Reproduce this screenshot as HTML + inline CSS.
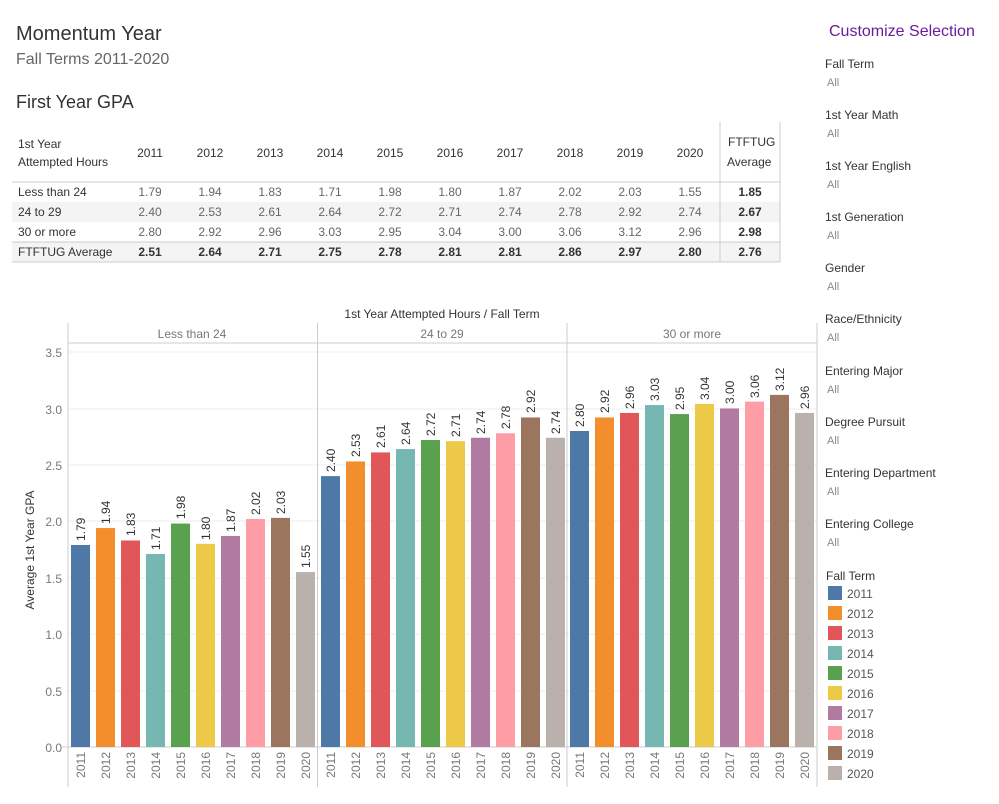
<!DOCTYPE html>
<html><head><meta charset="utf-8"><style>
body{margin:0;width:999px;height:799px;background:#fff;font-family:"Liberation Sans",sans-serif;overflow:hidden}
svg text{font-family:"Liberation Sans",sans-serif}
</style></head><body>
<svg width="999" height="799" viewBox="0 0 999 799" xmlns="http://www.w3.org/2000/svg">
<text x="16" y="40" font-size="20" fill="#333">Momentum Year</text>
<text x="16" y="64" font-size="16" fill="#666">Fall Terms 2011-2020</text>
<text x="16" y="108" font-size="18" fill="#333">First Year GPA</text>
<!-- table -->
<rect x="12" y="202" width="768" height="20" fill="#f4f4f4"/>
<rect x="12" y="242" width="768" height="20" fill="#f4f4f4"/>
<line x1="12" y1="182" x2="780" y2="182" stroke="#ccc"/>
<line x1="12" y1="242" x2="780" y2="242" stroke="#ccc"/>
<line x1="12" y1="262" x2="780" y2="262" stroke="#ccc"/>
<line x1="720" y1="122" x2="720" y2="262" stroke="#ccc"/>
<line x1="780" y1="122" x2="780" y2="262" stroke="#ccc"/>
<g font-size="12" fill="#333">
<text x="18" y="148">1st Year</text><text x="18" y="166">Attempted Hours</text>
<text x="728" y="146">FTFTUG</text><text x="727" y="166">Average</text>
<text x="18" y="196">Less than 24</text><text x="18" y="216">24 to 29</text>
<text x="18" y="236">30 or more</text><text x="18" y="256">FTFTUG Average</text>
</g>
<g font-size="12" fill="#333" text-anchor="middle">
<text x="150" y="157">2011</text><text x="210" y="157">2012</text><text x="270" y="157">2013</text><text x="330" y="157">2014</text><text x="390" y="157">2015</text><text x="450" y="157">2016</text><text x="510" y="157">2017</text><text x="570" y="157">2018</text><text x="630" y="157">2019</text><text x="690" y="157">2020</text>
</g>
<g font-size="12" fill="#666" text-anchor="middle">
<text x="150" y="196">1.79</text><text x="210" y="196">1.94</text><text x="270" y="196">1.83</text><text x="330" y="196">1.71</text><text x="390" y="196">1.98</text><text x="450" y="196">1.80</text><text x="510" y="196">1.87</text><text x="570" y="196">2.02</text><text x="630" y="196">2.03</text><text x="690" y="196">1.55</text>
<text x="150" y="216">2.40</text><text x="210" y="216">2.53</text><text x="270" y="216">2.61</text><text x="330" y="216">2.64</text><text x="390" y="216">2.72</text><text x="450" y="216">2.71</text><text x="510" y="216">2.74</text><text x="570" y="216">2.78</text><text x="630" y="216">2.92</text><text x="690" y="216">2.74</text>
<text x="150" y="236">2.80</text><text x="210" y="236">2.92</text><text x="270" y="236">2.96</text><text x="330" y="236">3.03</text><text x="390" y="236">2.95</text><text x="450" y="236">3.04</text><text x="510" y="236">3.00</text><text x="570" y="236">3.06</text><text x="630" y="236">3.12</text><text x="690" y="236">2.96</text>
</g>
<g font-size="12" fill="#333" text-anchor="middle" font-weight="bold">
<text x="750" y="196">1.85</text><text x="750" y="216">2.67</text><text x="750" y="236">2.98</text><text x="750" y="256">2.76</text>
<text x="150" y="256">2.51</text><text x="210" y="256">2.64</text><text x="270" y="256">2.71</text><text x="330" y="256">2.75</text><text x="390" y="256">2.78</text><text x="450" y="256">2.81</text><text x="510" y="256">2.81</text><text x="570" y="256">2.86</text><text x="630" y="256">2.97</text><text x="690" y="256">2.80</text>
</g>
<!-- chart -->
<text x="442" y="318" font-size="12" fill="#333" text-anchor="middle">1st Year Attempted Hours  /  Fall Term</text>
<g stroke="#eee"><line x1="68" y1="352" x2="817" y2="352"/><line x1="68" y1="409" x2="817" y2="409"/><line x1="68" y1="465" x2="817" y2="465"/><line x1="68" y1="521" x2="817" y2="521"/><line x1="68" y1="578" x2="817" y2="578"/><line x1="68" y1="634" x2="817" y2="634"/><line x1="68" y1="691" x2="817" y2="691"/></g>
<g stroke="#ccc"><line x1="68" y1="323" x2="68" y2="787"/><line x1="317.5" y1="323" x2="317.5" y2="787"/><line x1="567" y1="323" x2="567" y2="787"/><line x1="817" y1="323" x2="817" y2="787"/><line x1="68" y1="343" x2="817" y2="343"/><line x1="62" y1="747" x2="817" y2="747"/></g>
<g font-size="12" fill="#777" text-anchor="middle"><text x="192" y="338">Less than 24</text><text x="442" y="338">24 to 29</text><text x="692" y="338">30 or more</text></g>
<g font-size="12" fill="#777" text-anchor="end"><text x="62" y="357">3.5</text><text x="62" y="414">3.0</text><text x="62" y="470">2.5</text><text x="62" y="526">2.0</text><text x="62" y="583">1.5</text><text x="62" y="639">1.0</text><text x="62" y="696">0.5</text><text x="62" y="752">0.0</text></g>
<text transform="translate(34,550) rotate(-90)" font-size="12" fill="#333" text-anchor="middle">Average 1st Year GPA</text>
<g transform="translate(0,747) scale(1,-112.86)">
<rect x="71" y="0" width="19" height="1.79" fill="#4e79a7"/><rect x="96" y="0" width="19" height="1.94" fill="#f28e2b"/><rect x="121" y="0" width="19" height="1.83" fill="#e15759"/><rect x="146" y="0" width="19" height="1.71" fill="#76b7b2"/><rect x="171" y="0" width="19" height="1.98" fill="#59a14f"/><rect x="196" y="0" width="19" height="1.80" fill="#edc948"/><rect x="221" y="0" width="19" height="1.87" fill="#b07aa1"/><rect x="246" y="0" width="19" height="2.02" fill="#ff9da7"/><rect x="271" y="0" width="19" height="2.03" fill="#9c755f"/><rect x="296" y="0" width="19" height="1.55" fill="#bab0ac"/>
<rect x="321" y="0" width="19" height="2.40" fill="#4e79a7"/><rect x="346" y="0" width="19" height="2.53" fill="#f28e2b"/><rect x="371" y="0" width="19" height="2.61" fill="#e15759"/><rect x="396" y="0" width="19" height="2.64" fill="#76b7b2"/><rect x="421" y="0" width="19" height="2.72" fill="#59a14f"/><rect x="446" y="0" width="19" height="2.71" fill="#edc948"/><rect x="471" y="0" width="19" height="2.74" fill="#b07aa1"/><rect x="496" y="0" width="19" height="2.78" fill="#ff9da7"/><rect x="521" y="0" width="19" height="2.92" fill="#9c755f"/><rect x="546" y="0" width="19" height="2.74" fill="#bab0ac"/>
<rect x="570" y="0" width="19" height="2.80" fill="#4e79a7"/><rect x="595" y="0" width="19" height="2.92" fill="#f28e2b"/><rect x="620" y="0" width="19" height="2.96" fill="#e15759"/><rect x="645" y="0" width="19" height="3.03" fill="#76b7b2"/><rect x="670" y="0" width="19" height="2.95" fill="#59a14f"/><rect x="695" y="0" width="19" height="3.04" fill="#edc948"/><rect x="720" y="0" width="19" height="3.00" fill="#b07aa1"/><rect x="745" y="0" width="19" height="3.06" fill="#ff9da7"/><rect x="770" y="0" width="19" height="3.12" fill="#9c755f"/><rect x="795" y="0" width="19" height="2.96" fill="#bab0ac"/>
</g>
<g font-size="12" fill="#333">
<text transform="translate(85,541) rotate(-90)">1.79</text><text transform="translate(110,524) rotate(-90)">1.94</text><text transform="translate(135,536) rotate(-90)">1.83</text><text transform="translate(160,550) rotate(-90)">1.71</text><text transform="translate(185,519) rotate(-90)">1.98</text><text transform="translate(210,540) rotate(-90)">1.80</text><text transform="translate(235,532) rotate(-90)">1.87</text><text transform="translate(260,515) rotate(-90)">2.02</text><text transform="translate(285,514) rotate(-90)">2.03</text><text transform="translate(310,568) rotate(-90)">1.55</text>
<text transform="translate(335,472) rotate(-90)">2.40</text><text transform="translate(360,457) rotate(-90)">2.53</text><text transform="translate(385,448) rotate(-90)">2.61</text><text transform="translate(410,445) rotate(-90)">2.64</text><text transform="translate(435,436) rotate(-90)">2.72</text><text transform="translate(460,437) rotate(-90)">2.71</text><text transform="translate(485,434) rotate(-90)">2.74</text><text transform="translate(510,429) rotate(-90)">2.78</text><text transform="translate(535,413) rotate(-90)">2.92</text><text transform="translate(560,434) rotate(-90)">2.74</text>
<text transform="translate(584,427) rotate(-90)">2.80</text><text transform="translate(609,413) rotate(-90)">2.92</text><text transform="translate(634,409) rotate(-90)">2.96</text><text transform="translate(659,401) rotate(-90)">3.03</text><text transform="translate(684,410) rotate(-90)">2.95</text><text transform="translate(709,400) rotate(-90)">3.04</text><text transform="translate(734,404) rotate(-90)">3.00</text><text transform="translate(759,398) rotate(-90)">3.06</text><text transform="translate(784,391) rotate(-90)">3.12</text><text transform="translate(809,409) rotate(-90)">2.96</text>
</g>
<g font-size="12" fill="#777" text-anchor="end">
<text transform="translate(85,752) rotate(-90)">2011</text><text transform="translate(110,752) rotate(-90)">2012</text><text transform="translate(135,752) rotate(-90)">2013</text><text transform="translate(160,752) rotate(-90)">2014</text><text transform="translate(185,752) rotate(-90)">2015</text><text transform="translate(210,752) rotate(-90)">2016</text><text transform="translate(235,752) rotate(-90)">2017</text><text transform="translate(260,752) rotate(-90)">2018</text><text transform="translate(285,752) rotate(-90)">2019</text><text transform="translate(310,752) rotate(-90)">2020</text>
<text transform="translate(335,752) rotate(-90)">2011</text><text transform="translate(360,752) rotate(-90)">2012</text><text transform="translate(385,752) rotate(-90)">2013</text><text transform="translate(410,752) rotate(-90)">2014</text><text transform="translate(435,752) rotate(-90)">2015</text><text transform="translate(460,752) rotate(-90)">2016</text><text transform="translate(485,752) rotate(-90)">2017</text><text transform="translate(510,752) rotate(-90)">2018</text><text transform="translate(535,752) rotate(-90)">2019</text><text transform="translate(560,752) rotate(-90)">2020</text>
<text transform="translate(584,752) rotate(-90)">2011</text><text transform="translate(609,752) rotate(-90)">2012</text><text transform="translate(634,752) rotate(-90)">2013</text><text transform="translate(659,752) rotate(-90)">2014</text><text transform="translate(684,752) rotate(-90)">2015</text><text transform="translate(709,752) rotate(-90)">2016</text><text transform="translate(734,752) rotate(-90)">2017</text><text transform="translate(759,752) rotate(-90)">2018</text><text transform="translate(784,752) rotate(-90)">2019</text><text transform="translate(809,752) rotate(-90)">2020</text>
</g>
<!-- sidebar -->
<text x="829" y="36" font-size="16" fill="#6a1b9a">Customize Selection</text>
<g font-size="12" fill="#333">
<text x="825" y="68">Fall Term</text><text x="825" y="119">1st Year Math</text><text x="825" y="170">1st Year English</text><text x="825" y="221">1st Generation</text><text x="825" y="272">Gender</text><text x="825" y="323">Race/Ethnicity</text><text x="825" y="375">Entering Major</text><text x="825" y="426">Degree Pursuit</text><text x="825" y="477">Entering Department</text><text x="825" y="528">Entering College</text><text x="826" y="580">Fall Term</text>
</g>
<g font-size="11" fill="#888">
<text x="827" y="86">All</text><text x="827" y="137">All</text><text x="827" y="188">All</text><text x="827" y="239">All</text><text x="827" y="290">All</text><text x="827" y="341">All</text><text x="827" y="393">All</text><text x="827" y="444">All</text><text x="827" y="495">All</text><text x="827" y="546">All</text>
</g>
<g>
<rect x="828" y="586" width="14" height="14" fill="#4e79a7"/><rect x="828" y="606" width="14" height="14" fill="#f28e2b"/><rect x="828" y="626" width="14" height="14" fill="#e15759"/><rect x="828" y="646" width="14" height="14" fill="#76b7b2"/><rect x="828" y="666" width="14" height="14" fill="#59a14f"/><rect x="828" y="686" width="14" height="14" fill="#edc948"/><rect x="828" y="706" width="14" height="14" fill="#b07aa1"/><rect x="828" y="726" width="14" height="14" fill="#ff9da7"/><rect x="828" y="746" width="14" height="14" fill="#9c755f"/><rect x="828" y="766" width="14" height="14" fill="#bab0ac"/>
</g>
<g font-size="12" fill="#555">
<text x="847" y="598">2011</text><text x="847" y="618">2012</text><text x="847" y="638">2013</text><text x="847" y="658">2014</text><text x="847" y="678">2015</text><text x="847" y="698">2016</text><text x="847" y="718">2017</text><text x="847" y="738">2018</text><text x="847" y="758">2019</text><text x="847" y="778">2020</text>
</g>
</svg>
</body></html>
